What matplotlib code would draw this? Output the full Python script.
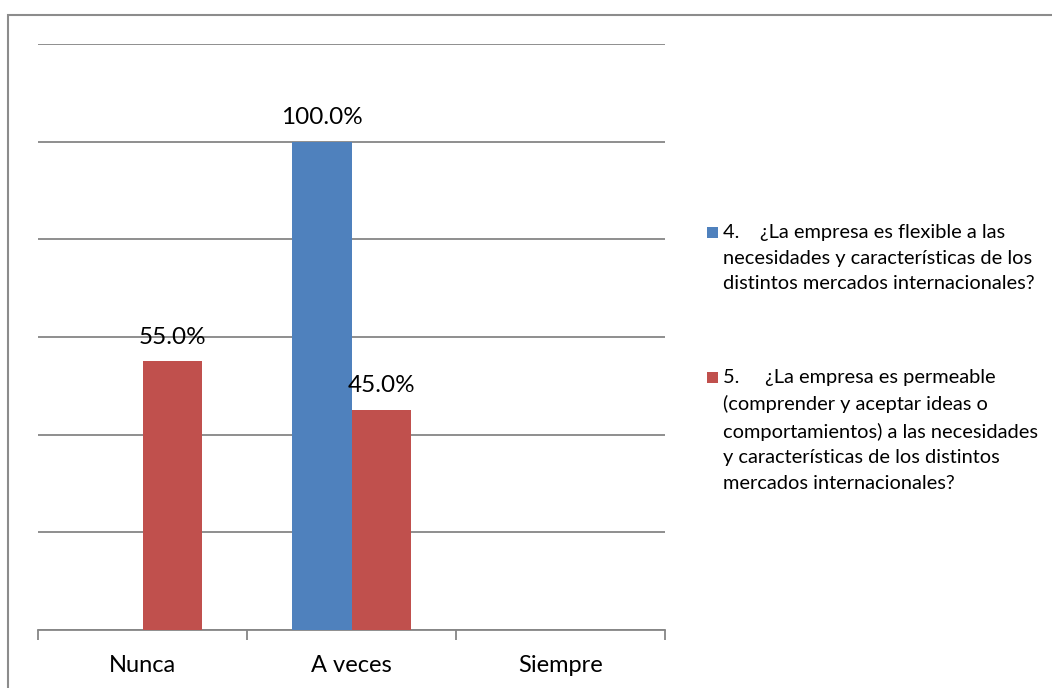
import matplotlib
matplotlib.use("Agg")
import matplotlib.pyplot as plt
from matplotlib.patches import Rectangle
import numpy as np

plt.rcParams['font.family'] = ['Lato', 'DejaVu Sans']

categories = ["Nunca", "A veces", "Siempre"]
serie_4 = [0.0, 100.0, 0.0]
serie_5 = [55.0, 45.0, 0.0]
series_labels = [
    "4.    ¿La empresa es flexible a las\nnecesidades y características de los\ndistintos mercados internacionales?",
    "5.     ¿La empresa es permeable\n(comprender y aceptar ideas o\ncomportamientos) a las necesidades\ny características de los distintos\nmercados internacionales?",
]
colors = ["#4F81BD", "#C0504D"]

W, H = 1052, 688
fig = plt.figure(figsize=(W / 100, H / 100), dpi=100)
fig.patch.set_facecolor("white")

# outer chart frame
fig.add_artist(Rectangle((8 / W, -0.05), 1.2, 1 - 15 / H + 0.05,
                         transform=fig.transFigure, fill=False,
                         edgecolor="#8C8C8C", linewidth=1.5))

ax = fig.add_axes([38 / W, 1 - 630 / H, (665 - 38) / W, (630 - 44) / H])
x = np.arange(len(categories))
bw = 0.287

for i, (vals, col) in enumerate(zip([serie_4, serie_5], colors)):
    offs = (i - 0.5) * bw
    bars = ax.bar(x + offs, vals, width=bw, color=col, edgecolor="none", zorder=3)
    for b, v in zip(bars, vals):
        if v > 0:
            ax.annotate(f"{v:.1f}%", (b.get_x() + b.get_width() / 2, v),
                        xytext=(0, 10), textcoords="offset points",
                        ha="center", va="bottom", fontsize=17.5, color="#000000")

ax.set_xlim(-0.5, 2.5)
ax.set_ylim(0, 120)
ax.set_yticks(np.arange(0, 121, 20))
ax.yaxis.grid(True, color="#868686", linewidth=1.3, zorder=0)
ax.tick_params(axis="y", left=False, labelleft=False)
for s in ["top", "right", "left"]:
    ax.spines[s].set_visible(False)
ax.spines["bottom"].set_color("#868686")
ax.spines["bottom"].set_linewidth(1.3)

ax.set_xticks(np.arange(-0.5, 2.6, 1.0))
ax.set_xticklabels([])
ax.set_xticks(x, minor=True)
ax.set_xticklabels(categories, minor=True, fontsize=17)
ax.tick_params(axis="x", which="major", direction="out", length=7,
               width=1.3, color="#868686")
ax.tick_params(axis="x", which="minor", length=0, pad=18)

# legend
leg_y = [232, 377]
for lab, col, yy in zip(series_labels, colors, leg_y):
    fig.add_artist(Rectangle((707 / W, 1 - (yy + 6) / H), 11 / W, 11 / H,
                             transform=fig.transFigure, facecolor=col,
                             edgecolor="none"))
    fig.text(723 / W, 1 - (yy - 8) / H, lab, ha="left", va="top",
             fontsize=14.4, linespacing=1.62, color="#000000")

fig.savefig("out.png", dpi=100, facecolor="white")
